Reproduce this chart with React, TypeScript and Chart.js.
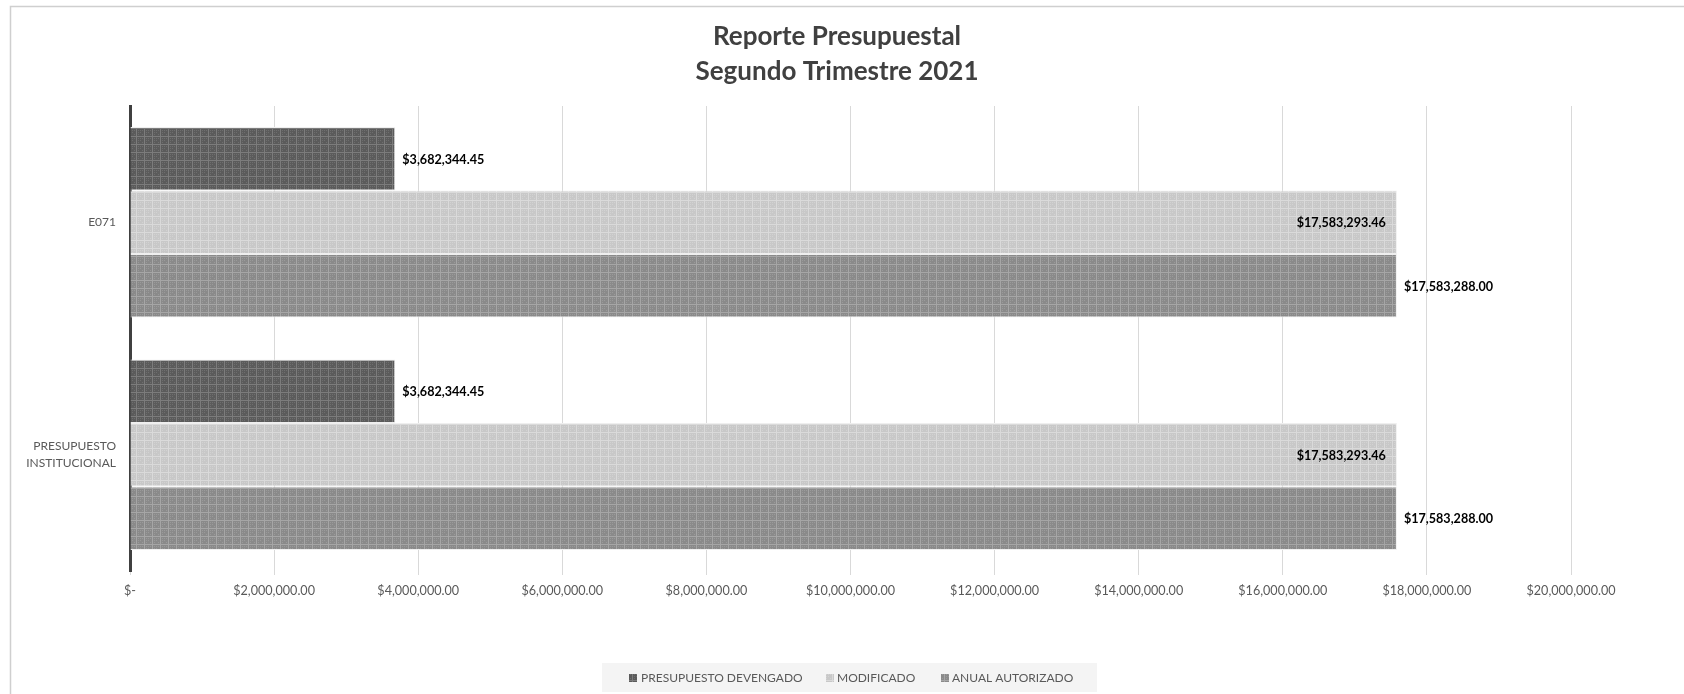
import React, { useEffect, useRef } from "react";
import { Chart, registerables } from "chart.js";

Chart.register(...registerables);

// ---- Data ----
const categories: string[][] = [["E071"], ["PRESUPUESTO", "INSTITUCIONAL"]];
const seriesNames: string[] = ["PRESUPUESTO DEVENGADO", "MODIFICADO", "ANUAL AUTORIZADO"];
const devengado: number[] = [3682344.45, 3682344.45];
const modificado: number[] = [17583293.46, 17583293.46];
const autorizado: number[] = [17583288.0, 17583288.0];
const xMin = 0;
const xMax = 20000000;
const xStep = 2000000;
const titleLines: string[] = ["Reporte Presupuestal", "Segundo Trimestre 2021"];

const FONT = "Lato, 'Open Sans', sans-serif";

function money(v: number): string {
  if (v === 0) return "$-";
  return "$" + v.toLocaleString("en-US", { minimumFractionDigits: 2, maximumFractionDigits: 2 });
}

function makePattern(base: string, line: string, dot: string): CanvasPattern | string {
  const c = document.createElement("canvas");
  c.width = 8;
  c.height = 8;
  const g = c.getContext("2d");
  if (!g) return base;
  g.fillStyle = base;
  g.fillRect(0, 0, 8, 8);
  g.fillStyle = line;
  g.fillRect(0, 0, 8, 1);
  g.fillRect(0, 0, 1, 8);
  g.fillStyle = dot;
  [[2, 2], [4, 4], [6, 2], [2, 6], [6, 6], [4, 2], [2, 4]].forEach(([x, y]) => g.fillRect(x, y, 1, 1));
  const p = g.createPattern(c, "repeat");
  return p || base;
}

export default function App() {
  const ref = useRef<HTMLCanvasElement | null>(null);

  useEffect(() => {
    const canvas = ref.current;
    if (!canvas) return;

    const patDark = makePattern("#5b5b5b", "#7c7c7c", "#6e6e6e");
    const patLight = makePattern("#c8c8c8", "#dadada", "#d2d2d2");
    const patMid = makePattern("#8a8a8a", "#a6a6a6", "#9a9a9a");
    const fills = [patDark, patLight, patMid];
    const labelMode = ["outside", "inside", "outside"];

    const framePlugin = {
      id: "frame",
      beforeDraw(chart: any) {
        const ctx = chart.ctx;
        ctx.save();
        ctx.strokeStyle = "#cfcfcf";
        ctx.lineWidth = 1.5;
        ctx.beginPath();
        ctx.moveTo(10.5, 700);
        ctx.lineTo(10.5, 6.5);
        ctx.lineTo(1700, 6.5);
        ctx.stroke();
        ctx.restore();
      },
    };

    const titlePlugin = {
      id: "customTitle",
      afterDraw(chart: any) {
        const ctx = chart.ctx;
        ctx.save();
        ctx.fillStyle = "#404040";
        ctx.font = `bold 26px ${FONT}`;
        ctx.textAlign = "center";
        ctx.textBaseline = "middle";
        ctx.fillText(titleLines[0], 837, 37);
        ctx.fillText(titleLines[1], 837, 72);
        ctx.restore();
      },
    };

    const legendPlugin = {
      id: "customLegend",
      afterDraw(chart: any) {
        const ctx = chart.ctx;
        ctx.save();
        ctx.fillStyle = "#f4f4f4";
        ctx.fillRect(602, 663, 495, 29);
        const markerX = [629, 826, 941];
        const textX = [641, 837, 952];
        ctx.font = `12px ${FONT}`;
        ctx.textBaseline = "middle";
        ctx.textAlign = "left";
        seriesNames.forEach((name, i) => {
          ctx.fillStyle = fills[i] as any;
          ctx.fillRect(markerX[i], 674, 8, 8);
          ctx.fillStyle = "#595959";
          ctx.fillText(name, textX[i], 678);
        });
        ctx.restore();
      },
    };

    const labelPlugin = {
      id: "barLabels",
      afterDatasetsDraw(chart: any) {
        const ctx = chart.ctx;
        ctx.save();
        ctx.font = `bold 12.6px ${FONT}`;
        ctx.fillStyle = "#000000";
        ctx.textBaseline = "middle";
        chart.data.datasets.forEach((ds: any, di: number) => {
          const meta = chart.getDatasetMeta(di);
          meta.data.forEach((el: any, i: number) => {
            const txt = money(ds.data[i]);
            if (labelMode[di] === "inside") {
              ctx.textAlign = "right";
              ctx.fillText(txt, el.x - 11, el.y + 1);
            } else {
              ctx.textAlign = "left";
              ctx.fillText(txt, el.x + 7, el.y + 1);
            }
          });
        });
        ctx.restore();
      },
    };

    const mk = (label: string, data: number[], fill: any) => ({
      label,
      data,
      backgroundColor: fill,
      borderColor: "#efefef",
      borderWidth: 1,
      categoryPercentage: 0.82,
      barPercentage: 1.0,
    });

    const chart = new Chart(canvas, {
      type: "bar",
      data: {
        labels: categories as any,
        datasets: [
          mk(seriesNames[0], devengado, patDark),
          mk(seriesNames[1], modificado, patLight),
          mk(seriesNames[2], autorizado, patMid),
        ],
      },
      options: {
        indexAxis: "y",
        responsive: false,
        maintainAspectRatio: false,
        animation: false,
        events: [],
        layout: { padding: { top: 106, right: 113, bottom: 0, left: 0 } },
        plugins: {
          legend: { display: false },
          title: { display: false },
          tooltip: { enabled: false },
        },
        scales: {
          x: {
            type: "linear",
            min: xMin,
            max: xMax,
            ticks: {
              stepSize: xStep,
              callback: (v: any) => money(Number(v)),
              color: "#595959",
              font: { family: FONT, size: 12.6 },
              padding: 8,
              maxRotation: 0,
              autoSkip: false,
            },
            grid: { color: "#d9d9d9", lineWidth: 1, tickLength: 4 },
            border: { display: false },
            afterFit: (s: any) => {
              s.height = 123;
            },
          },
          y: {
            type: "category",
            ticks: {
              color: "#595959",
              font: { family: FONT, size: 12, lineHeight: 1.42 },
              padding: 14,
            },
            grid: { display: false, drawTicks: false },
            border: { display: true, color: "#404040", width: 3 },
            afterFit: (s: any) => {
              s.width = 130;
            },
          },
        },
      } as any,
      plugins: [framePlugin, titlePlugin, legendPlugin, labelPlugin],
    });

    return () => {
      chart.destroy();
    };
  }, []);

  return (
    <div style={{ position: "absolute", left: 0, top: 0, width: 1684, height: 694, background: "#ffffff" }}>
      <canvas ref={ref} width={1684} height={694} style={{ display: "block", width: 1684, height: 694 }} />
    </div>
  );
}
